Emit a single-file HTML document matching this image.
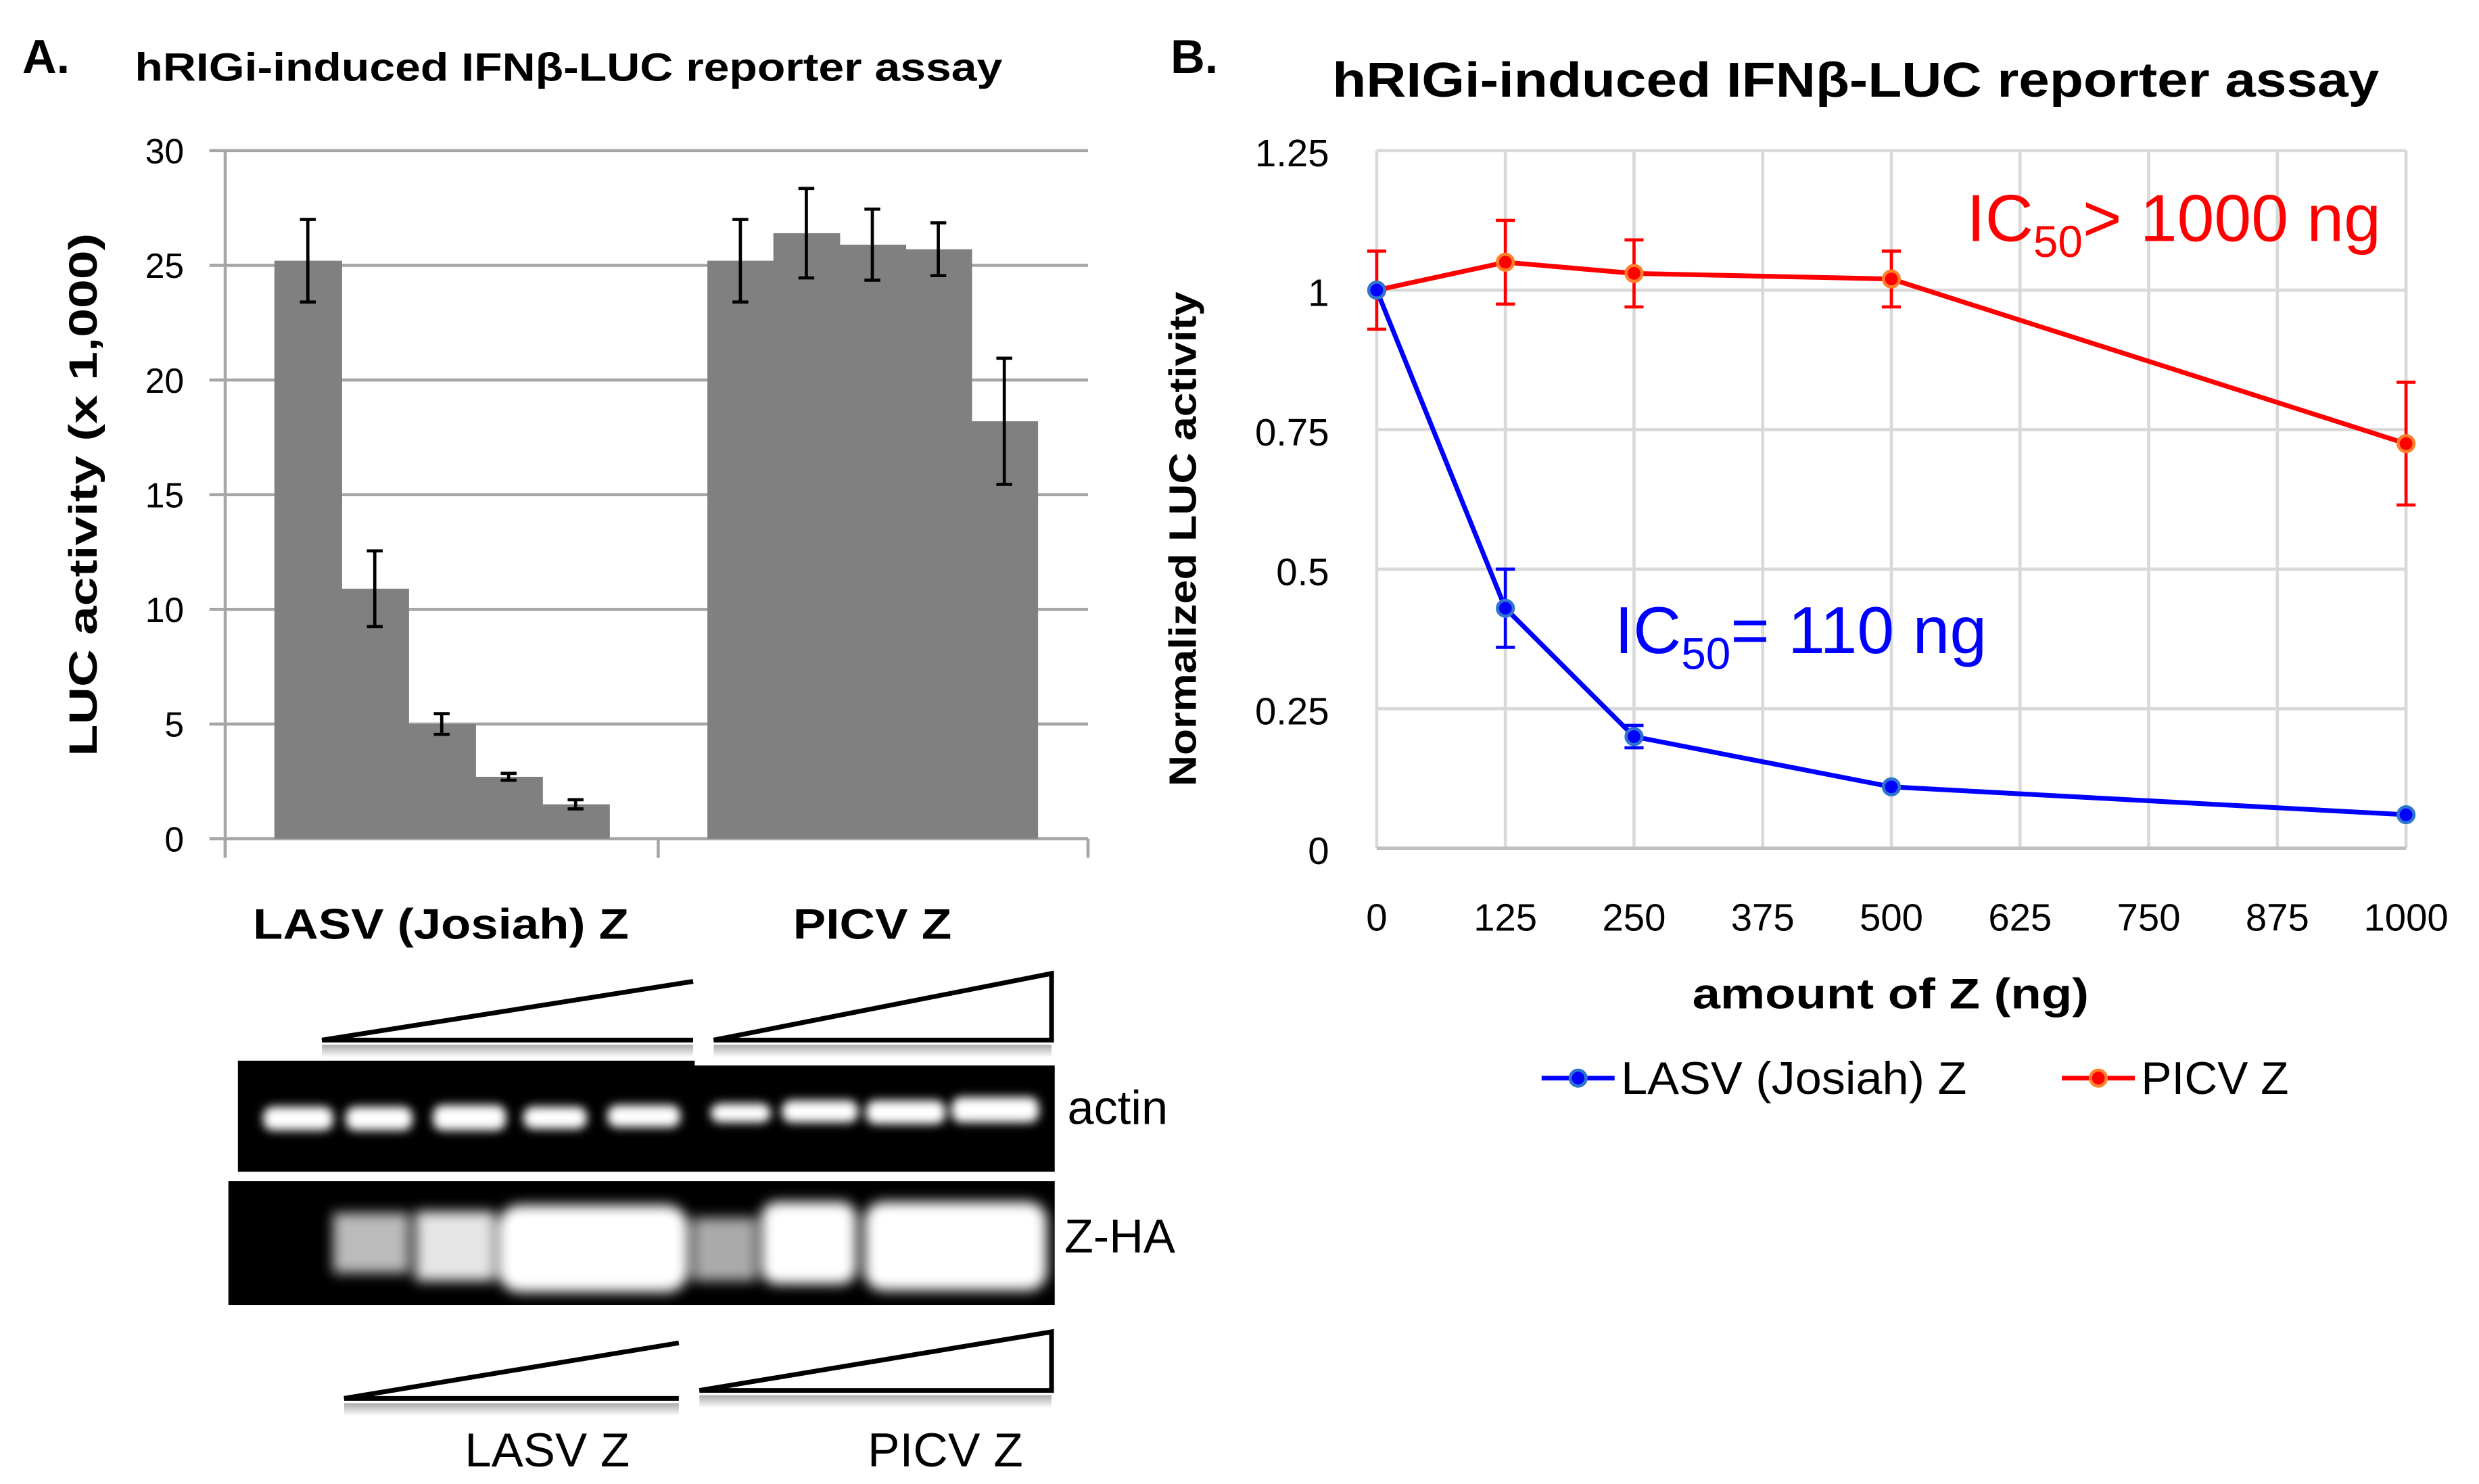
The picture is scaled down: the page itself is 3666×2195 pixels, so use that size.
<!DOCTYPE html>
<html><head><meta charset="utf-8"><style>
html,body{margin:0;padding:0;background:#fff}
svg{display:block}
text{font-family:"Liberation Sans",sans-serif}
</style></head><body>
<svg width="3666" height="2195" viewBox="0 0 1563 936" preserveAspectRatio="none">
<defs>
<filter id="blur" x="-20%" y="-50%" width="140%" height="200%"><feGaussianBlur stdDeviation="3"/></filter>
<filter id="blur2" x="-20%" y="-50%" width="140%" height="200%"><feGaussianBlur stdDeviation="4"/></filter>
<linearGradient id="shadow" x1="0" y1="0" x2="0" y2="1"><stop offset="0" stop-color="#aaa"/><stop offset="1" stop-color="#fff"/></linearGradient>
</defs>
<g id="panelA"></g>
<g id="panelB"></g>
<g id="blot">
  <rect x="203" y="659" width="234" height="8" fill="url(#shadow)"/>
  <rect x="450" y="659" width="213" height="8" fill="url(#shadow)"/>
  <polyline points="437,619 203,656 437,656" fill="#fff" stroke="#000" stroke-width="3"/>
  <polygon points="450,656 663,614 663,656" fill="#fff" stroke="#000" stroke-width="3"/>
  <rect x="150" y="669" width="288" height="70" fill="#000"/>
  <rect x="437" y="672" width="228" height="67" fill="#000"/>
  <g filter="url(#blur)" fill="#fff">
    <rect x="166" y="698" width="44" height="15" rx="6"/>
    <rect x="218" y="698" width="42" height="15" rx="6"/>
    <rect x="273" y="697" width="46" height="16" rx="6"/>
    <rect x="330" y="698" width="40" height="14" rx="6"/>
    <rect x="383" y="697" width="46" height="14" rx="6"/>
    <rect x="448" y="696" width="38" height="12" rx="6"/>
    <rect x="493" y="694" width="48" height="14" rx="6"/>
    <rect x="546" y="694" width="50" height="15" rx="6"/>
    <rect x="600" y="692" width="55" height="16" rx="6"/>
  </g>
  <rect x="144" y="745" width="521" height="78" fill="#000"/>
  <g filter="url(#blur2)">
    <rect x="210" y="765" width="48" height="38" fill="#bbb"/>
    <rect x="262" y="764" width="50" height="44" fill="#e5e5e5"/>
    <rect x="314" y="760" width="120" height="55" rx="14" fill="#fff"/>
    <rect x="437" y="768" width="40" height="40" fill="#aaa"/>
    <rect x="480" y="758" width="60" height="52" rx="10" fill="#fff"/>
    <rect x="545" y="758" width="115" height="56" rx="12" fill="#fff"/>
  </g>
  <text x="673" y="709" font-size="30">actin</text>
  <text x="671" y="790" font-size="30">Z-HA</text>
  <rect x="217" y="885" width="211" height="8" fill="url(#shadow)"/>
  <rect x="441" y="880" width="222" height="8" fill="url(#shadow)"/>
  <polyline points="428,847 217,882 428,882" fill="#fff" stroke="#000" stroke-width="3"/>
  <polygon points="441,877 663,840 663,877" fill="#fff" stroke="#000" stroke-width="3"/>
  <text x="345" y="925" font-size="30" text-anchor="middle" textLength="104" lengthAdjust="spacingAndGlyphs">LASV Z</text>
  <text x="596" y="925" font-size="30" text-anchor="middle" textLength="98" lengthAdjust="spacingAndGlyphs">PICV Z</text>
</g>
</svg>
<script>
// ---------- Panel A data ----------
const aCategories = ["LASV (Josiah) Z", "PICV Z"];
const aLasv = [25.2, 10.9, 5.0, 2.7, 1.5];
const aLasvErr = [1.8, 1.65, 0.45, 0.15, 0.2];
const aPicv = [25.2, 26.4, 25.9, 25.7, 18.2];
const aPicvErr = [1.8, 1.95, 1.55, 1.15, 2.75];
const aTicks = [0, 5, 10, 15, 20, 25, 30];
// ---------- Panel B data ----------
const bX = [0, 125, 250, 500, 1000];
const bLasv = [1, 0.43, 0.2, 0.11, 0.06];
const bLasvErr = [0, 0.07, 0.02, 0, 0];
const bPicv = [1, 1.05, 1.03, 1.02, 0.725];
const bPicvErr = [0.07, 0.075, 0.06, 0.05, 0.11];
const bYTicks = [0, 0.25, 0.5, 0.75, 1, 1.25];
const bXTicks = [0, 125, 250, 375, 500, 625, 750, 875, 1000];

const NS = "http://www.w3.org/2000/svg";
function mk(tag, attrs, parent, txt) {
  const e = document.createElementNS(NS, tag);
  for (const k in attrs) e.setAttribute(k, attrs[k]);
  if (txt !== undefined) e.textContent = txt;
  parent.appendChild(e);
  return e;
}
// ---------- Panel A ----------
const A = document.getElementById("panelA");
const aY = v => 529 - (v / 30) * 434;
let t = mk("text", {x: 14, y: 46, "font-size": 30, "font-weight": "bold"}, A, "A.");


t = mk("text", {x: 85, y: 51, "font-size": 25, "font-weight": "bold", textLength: 547, lengthAdjust: "spacingAndGlyphs"}, A, "hRIGi-induced IFNβ-LUC reporter assay");


aTicks.forEach(v => {
  const l = mk("line", {x1: 132, x2: 686, y1: aY(v), y2: aY(v), stroke: "#a6a6a6", "stroke-width": 2}, A);
  
  
  const tx = mk("text", {x: 116, y: aY(v) + 8, "font-size": 22, "text-anchor": "end"}, A, String(v));
  
  
});
let ax = mk("line", {x1: 142, x2: 142, y1: 95, y2: 540, stroke: "#a6a6a6", "stroke-width": 2}, A);


[142, 415, 686].forEach(x => {
  const l = mk("line", {x1: x, x2: x, y1: 529, y2: 541, stroke: "#a6a6a6", "stroke-width": 2}, A);
  
  
});
t = mk("text", {x: 0, y: 0, "font-size": 25, "font-weight": "bold", "text-anchor": "middle", textLength: 330, lengthAdjust: "spacingAndGlyphs", transform: "translate(61,312) rotate(-90)"}, A, "LUC activity (x 1,000)");


function drawBars(vals, errs, x0, name) {
  const w = (name === "lasv") ? 42.2 : 41.6;
  vals.forEach((v, i) => {
    const x = x0 + i * w;
    const r = mk("rect", {x: x, y: aY(v), width: w + 0.5, height: aY(0) - aY(v), fill: "#808080"}, A);
    
    
    const cx = x + w / 2;
    const e = mk("path", {d: `M${cx},${aY(v + errs[i])}V${aY(v - errs[i])}M${cx - 5},${aY(v + errs[i])}h10M${cx - 5},${aY(v - errs[i])}h10`, stroke: "#000", "stroke-width": 2, fill: "none"}, A);
    
    
  });
}
drawBars(aLasv, aLasvErr, 173, "lasv");
drawBars(aPicv, aPicvErr, 446, "picv");
[278, 550].forEach((cx, i) => {
  const tx = mk("text", {x: cx, y: 592, "font-size": 27, "font-weight": "bold", "text-anchor": "middle", textLength: i === 0 ? 237 : 100, lengthAdjust: "spacingAndGlyphs"}, A, aCategories[i]);
  
  
});
// ---------- Panel B ----------
const B = document.getElementById("panelB");
const bx = v => 868 + (v / 1000) * 649;
const by = v => 535 - (v / 1.25) * 440;
t = mk("text", {x: 738, y: 46, "font-size": 30, "font-weight": "bold"}, B, "B.");


t = mk("text", {x: 840, y: 61, "font-size": 31, "font-weight": "bold", textLength: 660, lengthAdjust: "spacingAndGlyphs"}, B, "hRIGi-induced IFNβ-LUC reporter assay");


bYTicks.forEach(v => {
  const l = mk("line", {x1: 868, x2: 1517, y1: by(v), y2: by(v), stroke: "#d9d9d9", "stroke-width": 2}, B);
  
  
  const tx = mk("text", {x: 838, y: by(v) + 10, "font-size": 24, "text-anchor": "end"}, B, String(v));
  
  
});
bXTicks.forEach(v => {
  const l = mk("line", {x1: bx(v), x2: bx(v), y1: 95, y2: 535, stroke: "#d9d9d9", "stroke-width": 2}, B);
  
  
  const tx = mk("text", {x: bx(v), y: 587, "font-size": 24, "text-anchor": "middle"}, B, String(v));
  
  
});
ax = mk("line", {x1: 868, x2: 1517, y1: 535, y2: 535, stroke: "#bfbfbf", "stroke-width": 2}, B);


t = mk("text", {x: 0, y: 0, "font-size": 24, "font-weight": "bold", "text-anchor": "middle", textLength: 312, lengthAdjust: "spacingAndGlyphs", transform: "translate(754,340) rotate(-90)"}, B, "Normalized LUC activity");


t = mk("text", {x: 1192, y: 636, "font-size": 27, "font-weight": "bold", "text-anchor": "middle", textLength: 250, lengthAdjust: "spacingAndGlyphs"}, B, "amount of Z (ng)");


function drawSeries(vals, errs, color, edge, name) {
  const pts = vals.map((v, i) => bx(bX[i]) + "," + by(v)).join(" ");
  const pl = mk("polyline", {points: pts, fill: "none", stroke: color, "stroke-width": 3}, B);
  
  
  vals.forEach((v, i) => {
    const cx = bx(bX[i]);
    if (errs[i] > 0) {
      const e = mk("path", {d: `M${cx},${by(v + errs[i])}V${by(v - errs[i])}M${cx - 6},${by(v + errs[i])}h12M${cx - 6},${by(v - errs[i])}h12`, stroke: color, "stroke-width": 2, fill: "none"}, B);
      
      
    }
    const c = mk("circle", {cx: cx, cy: by(v), r: 5, fill: color, stroke: edge, "stroke-width": 2}, B);
    
    
  });
}
drawSeries(bPicv, bPicvErr, "#ff0000", "#ff7f2a", "picv");
drawSeries(bLasv, bLasvErr, "#0000ff", "#2f75d0", "lasv");
// annotations
let an = mk("text", {x: 1240, y: 152, "font-size": 42, fill: "#ff0000"}, B);


an.innerHTML = 'IC<tspan font-size="28" dy="10">50</tspan><tspan dy="-10">&gt; 1000 ng</tspan>';
an = mk("text", {x: 1018, y: 412, "font-size": 42, fill: "#0000ff"}, B);


an.innerHTML = 'IC<tspan font-size="28" dy="10">50</tspan><tspan dy="-10">= 110 ng</tspan>';
// legend
function legend(x, label, color, edge, name, tl) {
  const g = mk("g", {}, B);
  
  
  mk("line", {x1: x, x2: x + 46, y1: 680, y2: 680, stroke: color, "stroke-width": 3}, g);
  mk("circle", {cx: x + 23, cy: 680, r: 5, fill: color, stroke: edge, "stroke-width": 2}, g);
  mk("text", {x: x + 50, y: 690, "font-size": 29, textLength: tl, lengthAdjust: "spacingAndGlyphs"}, g, label);
}
legend(972, "LASV (Josiah) Z", "#0000ff", "#2f75d0", "lasv", 218);
legend(1300, "PICV Z", "#ff0000", "#ff7f2a", "picv", 93);
</script>
</body></html>
